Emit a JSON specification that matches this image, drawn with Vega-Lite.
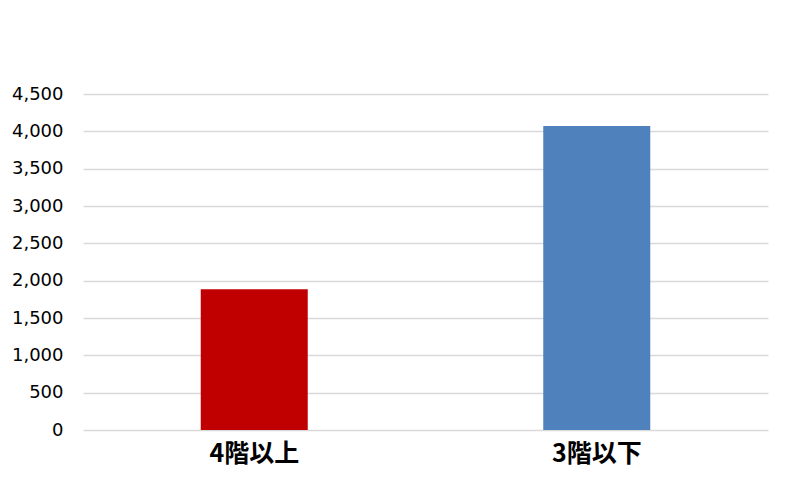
{
  "$schema": "https://vega.github.io/schema/vega-lite/v6.json",
  "autosize": "none",
  "width": 685,
  "height": 336,
  "padding": {"left": 83, "top": 94, "right": 20, "bottom": 57},
  "background": "white",
  "data": {
    "values": [
      {"floor": "4階以上", "count": 1885},
      {"floor": "3階以下", "count": 4070}
    ]
  },
  "mark": {"type": "bar", "width": 107},
  "encoding": {
    "x": {
      "field": "floor",
      "type": "nominal",
      "sort": ["4階以上", "3階以下"],
      "scale": {"paddingInner": 0, "paddingOuter": 0},
      "axis": {
        "title": null,
        "labelAngle": 0,
        "domain": false,
        "ticks": false,
        "labelFont": "Noto Sans CJK JP",
        "labelFontSize": 25,
        "labelFontWeight": "bold",
        "labelColor": "#000000",
        "labelPadding": 11
      }
    },
    "y": {
      "field": "count",
      "type": "quantitative",
      "scale": {"domain": [0, 4500], "nice": false},
      "axis": {
        "title": null,
        "values": [0, 500, 1000, 1500, 2000, 2500, 3000, 3500, 4000, 4500],
        "format": ",d",
        "domain": false,
        "ticks": false,
        "grid": true,
        "gridColor": "#d9d9d9",
        "gridWidth": 1.5,
        "labelFont": "DejaVu Sans",
        "labelFontSize": 18,
        "labelColor": "#000000",
        "labelPadding": 20
      }
    },
    "color": {
      "field": "floor",
      "type": "nominal",
      "scale": {"domain": ["4階以上", "3階以下"], "range": ["#c00000", "#4f81bd"]},
      "legend": null
    }
  },
  "config": {"view": {"stroke": null}}
}
